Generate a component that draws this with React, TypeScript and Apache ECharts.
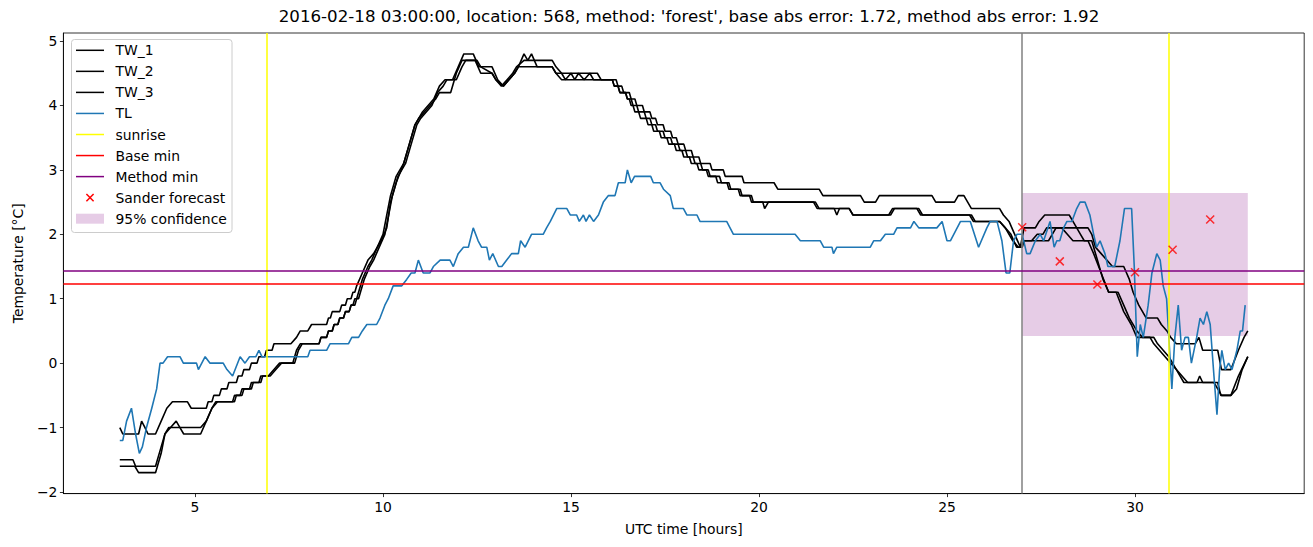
import React, { useEffect, useRef } from "react";
import * as echarts from "echarts";

type P = [number, number];

const TITLE =
  "2016-02-18 03:00:00, location: 568, method: 'forest', base abs error: 1.72, method abs error: 1.92";

const TW_1: P[] = [
  [3.0,-1.0],[3.08,-1.1],[3.5,-1.1],[3.58,-0.9],[3.67,-1.0],[3.75,-1.1],[3.95,-1.1],[4.1,-0.9],[4.25,-0.7],[4.4,-0.6],[4.8,-0.6],[4.9,-0.7],[5.2,-0.7],[5.3,-0.7],[5.35,-0.6],[5.45,-0.6],[5.5,-0.5],[5.65,-0.5],[5.7,-0.4],[5.85,-0.4],[5.9,-0.3],[6.1,-0.3],[6.15,-0.2],[6.25,-0.2],[6.3,-0.1],[6.45,-0.1],[6.5,0.0],[6.65,0.0],[6.7,0.1],[6.85,0.1],[6.9,0.2],[7.05,0.2],[7.1,0.3],[7.55,0.3],[7.7,0.4],[7.8,0.5],[8.0,0.5],[8.1,0.6],[8.5,0.6],[8.55,0.7],[8.6,0.7],[8.65,0.8],[8.85,0.8],[8.9,0.9],[9.0,0.9],[9.05,1.0],[9.15,1.0],[9.2,1.1],[9.25,1.1],[9.3,1.2],[9.45,1.4],[9.6,1.6],[9.75,1.7],[9.95,1.9],[10.1,2.1],[10.2,2.5],[10.35,2.8],[10.55,3.1],[10.7,3.4],[10.85,3.7],[10.95,3.8],[11.05,3.9],[11.2,4.0],[11.35,4.1],[11.5,4.3],[11.65,4.4],[11.85,4.4],[12.0,4.6],[12.15,4.8],[12.4,4.8],[12.55,4.6],[12.9,4.6],[13.05,4.4],[13.2,4.3],[13.35,4.4],[13.5,4.5],[13.6,4.6],[13.75,4.8],[13.85,4.7],[13.95,4.8],[14.1,4.6],[14.5,4.6],[14.6,4.5],[15.7,4.5],[15.8,4.4],[16.2,4.4],[16.25,4.3],[16.35,4.3],[16.4,4.2],[16.55,4.2],[16.6,4.1],[16.7,4.1],[16.75,4.0],[16.9,4.0],[16.95,3.9],[17.1,3.9],[17.15,3.8],[17.25,3.8],[17.3,3.7],[17.45,3.7],[17.5,3.6],[17.65,3.6],[17.7,3.5],[17.8,3.5],[17.85,3.4],[18.0,3.4],[18.05,3.3],[18.2,3.3],[18.25,3.2],[18.4,3.2],[18.45,3.1],[18.7,3.1],[18.75,3.0],[19.05,3.0],[19.1,2.9],[19.55,2.9],[19.6,2.8],[20.4,2.8],[20.5,2.7],[21.6,2.7],[21.7,2.6],[22.7,2.6],[22.8,2.5],[23.1,2.5],[23.2,2.6],[24.6,2.6],[24.7,2.5],[25.2,2.5],[25.3,2.6],[25.45,2.6],[25.55,2.5],[25.65,2.4],[26.4,2.4],[26.5,2.3],[26.65,2.2],[26.8,2.0],[26.95,1.8],[27.05,2.1],[27.35,2.1],[27.45,2.2],[27.6,2.3],[28.25,2.3],[28.35,2.2],[28.45,2.1],[28.75,2.1],[28.85,2.0],[28.95,1.8],[29.1,1.7],[29.25,1.6],[29.4,1.5],[29.7,1.5],[29.85,1.3],[29.95,1.1],[30.1,0.9],[30.3,0.7],[30.6,0.7],[30.7,0.6],[30.85,0.5],[30.95,0.4],[31.1,0.3],[31.6,0.3],[31.7,0.4],[31.8,0.2],[32.2,0.2],[32.3,-0.1],[32.55,-0.1],[32.75,0.2],[32.9,0.4],[33.0,0.5]
];

const TW_2: P[] = [
  [3.0,-1.5],[3.35,-1.5],[3.42,-1.6],[3.95,-1.6],[4.1,-1.3],[4.2,-1.1],[4.35,-1.0],[4.5,-0.9],[4.6,-1.0],[4.7,-1.1],[5.15,-1.1],[5.3,-0.9],[5.45,-0.7],[5.55,-0.6],[6.0,-0.6],[6.05,-0.5],[6.2,-0.5],[6.25,-0.4],[6.45,-0.4],[6.5,-0.3],[6.7,-0.3],[6.75,-0.2],[6.95,-0.2],[7.1,-0.1],[7.25,0.0],[7.6,0.0],[7.7,0.2],[7.8,0.3],[8.3,0.3],[8.35,0.4],[8.5,0.4],[8.55,0.5],[8.65,0.5],[8.7,0.6],[8.8,0.6],[8.85,0.7],[8.95,0.7],[9.0,0.8],[9.1,0.8],[9.15,0.9],[9.2,0.9],[9.25,1.0],[9.3,1.0],[9.35,1.1],[9.45,1.3],[9.6,1.5],[9.7,1.6],[9.85,1.8],[10.0,2.0],[10.1,2.3],[10.2,2.6],[10.35,2.9],[10.55,3.1],[10.7,3.4],[10.85,3.7],[10.95,3.8],[11.1,3.9],[11.25,4.0],[11.4,4.1],[11.5,4.2],[11.8,4.2],[11.95,4.5],[12.1,4.7],[12.45,4.7],[12.6,4.5],[12.9,4.5],[13.0,4.4],[13.15,4.3],[13.3,4.4],[13.45,4.5],[13.55,4.6],[13.75,4.7],[14.5,4.7],[14.6,4.6],[14.75,4.5],[14.85,4.4],[15.0,4.5],[15.1,4.4],[15.2,4.5],[15.35,4.4],[15.5,4.5],[15.6,4.4],[16.1,4.4],[16.15,4.3],[16.25,4.3],[16.3,4.2],[16.45,4.2],[16.5,4.1],[16.55,4.1],[16.6,4.0],[16.65,4.0],[16.7,3.9],[16.8,3.9],[16.85,3.8],[17.0,3.8],[17.05,3.7],[17.15,3.7],[17.2,3.6],[17.35,3.6],[17.4,3.5],[17.55,3.5],[17.6,3.4],[17.75,3.4],[17.8,3.3],[17.95,3.3],[18.0,3.2],[18.15,3.2],[18.2,3.1],[18.35,3.1],[18.4,3.0],[18.6,3.0],[18.65,2.9],[18.85,2.9],[18.9,2.8],[19.15,2.8],[19.2,2.7],[19.45,2.7],[19.5,2.6],[19.75,2.6],[19.8,2.5],[21.45,2.5],[21.55,2.4],[22.0,2.4],[22.07,2.3],[22.14,2.4],[22.4,2.4],[22.5,2.3],[23.5,2.3],[23.6,2.4],[24.2,2.4],[24.3,2.3],[25.6,2.3],[25.7,2.2],[26.4,2.2],[26.55,2.1],[26.7,2.0],[26.85,1.8],[26.95,1.8],[27.05,1.9],[27.25,1.9],[27.4,2.0],[27.55,2.0],[27.65,2.1],[28.05,2.1],[28.2,2.0],[28.35,1.9],[28.75,1.9],[28.9,1.7],[29.1,1.4],[29.3,1.1],[29.55,1.1],[29.7,0.9],[29.85,0.7],[30.05,0.5],[30.2,0.4],[30.5,0.4],[30.6,0.3],[30.75,0.2],[30.9,0.1],[31.0,0.0],[31.1,-0.1],[31.25,-0.2],[31.4,-0.3],[31.65,-0.3],[31.72,-0.2],[31.8,-0.3],[32.2,-0.3],[32.28,-0.5],[32.55,-0.5],[32.75,-0.2],[33.0,0.1]
];

const TW_3: P[] = [
  [3.0,-1.6],[3.4,-1.6],[3.5,-1.7],[3.95,-1.7],[4.1,-1.4],[4.2,-1.1],[4.3,-1.0],[5.15,-1.0],[5.3,-0.9],[5.45,-0.7],[5.6,-0.6],[6.05,-0.6],[6.1,-0.5],[6.25,-0.5],[6.3,-0.4],[6.5,-0.4],[6.55,-0.3],[6.75,-0.3],[6.8,-0.2],[7.0,-0.2],[7.15,-0.1],[7.3,0.0],[7.65,0.0],[7.75,0.2],[7.85,0.3],[8.3,0.3],[8.35,0.4],[8.5,0.4],[8.55,0.5],[8.65,0.5],[8.7,0.6],[8.8,0.6],[8.85,0.7],[8.95,0.7],[9.0,0.8],[9.1,0.8],[9.15,0.9],[9.25,0.9],[9.3,1.0],[9.35,1.0],[9.4,1.1],[9.5,1.3],[9.65,1.5],[9.75,1.6],[9.9,1.8],[10.05,2.0],[10.15,2.3],[10.25,2.6],[10.4,2.9],[10.6,3.1],[10.75,3.4],[10.9,3.7],[11.0,3.8],[11.15,3.9],[11.3,4.0],[11.45,4.2],[11.6,4.3],[11.7,4.4],[11.95,4.4],[12.1,4.6],[12.2,4.7],[12.5,4.7],[12.6,4.6],[12.9,4.5],[13.0,4.4],[13.2,4.3],[13.35,4.4],[13.5,4.5],[13.6,4.6],[14.5,4.6],[14.6,4.5],[14.75,4.4],[16.1,4.4],[16.15,4.3],[16.25,4.3],[16.3,4.2],[16.45,4.2],[16.5,4.1],[16.6,4.1],[16.65,4.0],[16.75,4.0],[16.8,3.9],[16.95,3.9],[17.0,3.8],[17.1,3.8],[17.15,3.7],[17.25,3.7],[17.3,3.6],[17.45,3.6],[17.5,3.5],[17.65,3.5],[17.7,3.4],[17.85,3.4],[17.9,3.3],[18.05,3.3],[18.1,3.2],[18.25,3.2],[18.3,3.1],[18.45,3.1],[18.5,3.0],[18.65,3.0],[18.7,2.9],[18.95,2.9],[19.0,2.8],[19.2,2.8],[19.25,2.7],[19.5,2.7],[19.55,2.6],[19.8,2.6],[19.85,2.5],[20.1,2.5],[20.15,2.4],[20.25,2.5],[21.5,2.5],[21.6,2.4],[22.4,2.4],[22.5,2.3],[23.45,2.3],[23.55,2.4],[24.25,2.4],[24.35,2.3],[25.65,2.3],[25.75,2.2],[26.4,2.2],[26.55,2.1],[26.75,1.9],[26.9,1.8],[27.0,1.8],[27.05,1.9],[27.7,1.9],[27.8,2.0],[27.9,2.1],[28.45,2.1],[28.55,2.0],[28.65,1.9],[28.85,1.9],[29.0,1.6],[29.15,1.3],[29.3,1.1],[29.5,1.1],[29.7,0.8],[29.9,0.6],[30.05,0.4],[30.4,0.4],[30.5,0.3],[30.65,0.2],[30.8,0.1],[30.95,0.0],[31.1,-0.1],[31.2,-0.2],[31.3,-0.3],[32.1,-0.3],[32.2,-0.4],[32.3,-0.5],[32.55,-0.5],[32.7,-0.4],[32.85,-0.1],[33.0,0.1]
];

const TL: P[] = [
  [3.0,-1.2],[3.08,-1.2],[3.18,-0.9],[3.31,-0.7],[3.42,-1.1],[3.52,-1.4],[3.6,-1.3],[3.71,-1.0],[3.85,-0.7],[3.98,-0.4],[4.07,0.0],[4.15,0.0],[4.27,0.1],[4.6,0.1],[4.69,0.0],[5.04,0.0],[5.09,-0.1],[5.27,0.1],[5.4,0.0],[5.75,0.0],[5.85,-0.1],[6.0,-0.2],[6.2,0.1],[6.33,0.0],[6.45,0.1],[6.62,0.1],[6.7,0.2],[6.78,0.1],[8.0,0.1],[8.06,0.2],[8.5,0.2],[8.59,0.3],[9.08,0.3],[9.17,0.4],[9.35,0.4],[9.45,0.5],[9.57,0.6],[9.83,0.6],[9.92,0.7],[10.05,0.9],[10.14,1.0],[10.27,1.2],[10.5,1.2],[10.63,1.3],[10.75,1.4],[10.85,1.4],[10.94,1.6],[11.07,1.4],[11.25,1.4],[11.34,1.5],[11.52,1.6],[11.78,1.6],[11.87,1.5],[12.0,1.7],[12.14,1.8],[12.27,1.8],[12.4,2.1],[12.53,1.9],[12.62,1.8],[12.76,1.8],[12.83,1.6],[12.92,1.7],[13.07,1.5],[13.16,1.5],[13.29,1.6],[13.42,1.7],[13.6,1.7],[13.66,1.9],[13.78,1.8],[13.95,2.0],[14.26,2.0],[14.35,2.1],[14.45,2.2],[14.62,2.4],[14.89,2.4],[14.98,2.3],[15.15,2.3],[15.22,2.2],[15.33,2.3],[15.4,2.2],[15.49,2.3],[15.6,2.2],[15.73,2.3],[15.86,2.5],[15.99,2.6],[16.17,2.6],[16.26,2.8],[16.44,2.8],[16.5,3.0],[16.6,2.8],[16.69,2.9],[17.12,2.9],[17.19,2.8],[17.37,2.8],[17.46,2.7],[17.64,2.6],[17.72,2.4],[17.99,2.4],[18.08,2.3],[18.35,2.3],[18.43,2.2],[19.14,2.2],[19.32,2.0],[20.96,2.0],[21.1,1.9],[21.63,1.9],[21.72,1.8],[21.94,1.8],[21.98,1.7],[22.07,1.8],[22.96,1.8],[23.05,1.9],[23.23,1.9],[23.36,2.0],[23.58,2.0],[23.67,2.1],[24.03,2.1],[24.12,2.2],[24.25,2.1],[24.73,2.1],[24.87,2.2],[25.0,1.9],[25.09,1.9],[25.36,2.2],[25.62,2.2],[25.84,1.8],[26.06,2.1],[26.15,2.2],[26.33,2.2],[26.46,1.9],[26.57,1.4],[26.67,1.4],[26.77,1.9],[26.86,2.0],[27.0,2.0],[27.12,1.7],[27.21,1.7],[27.35,1.9],[27.48,2.0],[27.57,1.9],[27.74,2.2],[27.85,1.8],[27.92,1.9],[28.0,1.9],[28.1,2.1],[28.19,2.2],[28.32,2.2],[28.45,2.4],[28.54,2.5],[28.67,2.5],[28.8,2.3],[28.9,2.0],[28.98,1.8],[29.07,1.9],[29.2,1.7],[29.28,1.5],[29.46,1.5],[29.6,1.9],[29.72,2.4],[29.82,2.4],[29.91,2.4],[29.98,1.5],[30.06,0.1],[30.14,0.6],[30.22,0.4],[30.35,0.9],[30.45,1.4],[30.58,1.7],[30.67,1.6],[30.75,1.2],[30.84,1.0],[30.92,0.2],[30.98,-0.4],[31.06,0.4],[31.15,0.9],[31.24,0.2],[31.33,0.4],[31.42,0.4],[31.5,0.0],[31.64,0.4],[31.73,0.7],[31.82,0.6],[31.91,0.8],[32.0,0.6],[32.1,-0.2],[32.18,-0.8],[32.25,-0.1],[32.31,0.2],[32.4,-0.1],[32.49,0.0],[32.58,-0.1],[32.71,0.2],[32.8,0.5],[32.86,0.5],[32.93,0.9]
];

const sunriseHours = [6.9, 30.9];
const forecastStartHour = 27;
const baseMin = 1.23;
const methodMin = 1.44;
const forecastHours = [27, 28, 29, 30, 31, 32];
const forecastValues = [2.11, 1.58, 1.22, 1.41, 1.76, 2.23];
const confidenceHours = [27, 33];
const confidenceBounds = [0.42, 2.64];
const xTicks = [5, 10, 15, 20, 25, 30];
const yTicks = [-2, -1, 0, 1, 2, 3, 4, 5];
const legendLabels = ["TW_1", "TW_2", "TW_3", "TL", "sunrise", "Base min", "Method min", "Sander forecast", "95% confidence"];

const FONT = "'DejaVu Sans', sans-serif";
const FS = 13.9;
const C_TL = "#1f77b4";
const C_SUN = "#ffff00";
const C_BASE = "#ff0000";
const C_METHOD = "#800080";
const C_CONF = "rgba(128,0,128,0.2)";
const legendColors = ["#000", "#000", "#000", C_TL, C_SUN, C_BASE, C_METHOD, "#ff0000", C_CONF];

function buildLegend(): any[] {
  const els: any[] = [];
  els.push({
    type: "rect",
    shape: { x: 71.5, y: 39.5, width: 160.5, height: 193, r: 3 },
    style: { fill: "rgba(255,255,255,0.8)", stroke: "#cccccc", lineWidth: 1 },
    z: 100,
  });
  legendLabels.forEach((label, i) => {
    const y = 50.3 + i * 21.05;
    if (i < 7) {
      els.push({
        type: "line",
        shape: { x1: 76, y1: y, x2: 104, y2: y },
        style: { stroke: legendColors[i], lineWidth: 1.5 },
        z: 101,
      });
    } else if (i === 7) {
      const cx = 90, s = 3.6;
      els.push({ type: "line", shape: { x1: cx - s, y1: y - s, x2: cx + s, y2: y + s }, style: { stroke: "#ff0000", lineWidth: 1.5 }, z: 101 });
      els.push({ type: "line", shape: { x1: cx - s, y1: y + s, x2: cx + s, y2: y - s }, style: { stroke: "#ff0000", lineWidth: 1.5 }, z: 101 });
    } else {
      els.push({
        type: "rect",
        shape: { x: 76, y: y - 5, width: 28, height: 10 },
        style: { fill: C_CONF },
        z: 101,
      });
    }
    els.push({
      type: "text",
      x: 115.5,
      y: y,
      style: { text: label, fill: "#000", fontSize: FS, fontFamily: FONT, verticalAlign: "middle", align: "left" },
      z: 101,
    });
  });
  return els;
}

const minus = (v: number) => String(v).replace("-", "\u2212");

export default function App() {
  const ref = useRef<HTMLDivElement>(null);
  useEffect(() => {
    if (!ref.current) return;
    const chart = echarts.init(ref.current, undefined, { renderer: "svg" });
    const twSeries = [TW_1, TW_2, TW_3].map((d, i) => ({
      name: legendLabels[i],
      type: "line",
      data: d,
      symbol: "none",
      silent: true,
      lineStyle: { color: "#000", width: 1.6 },
      itemStyle: { color: "#000" },
      z: 3,
    }));
    const option: any = {
      animation: false,
      title: {
        text: TITLE,
        left: 684,
        top: 3,
        textAlign: "center",
        textStyle: { fontSize: 16.67, fontWeight: "normal", color: "#000", fontFamily: FONT },
      },
      grid: {
        left: 63.4,
        right: 8.8,
        top: 33,
        bottom: 53.4,
        show: true,
        borderColor: "#000",
        borderWidth: 0.8,
        backgroundColor: "transparent",
      },
      xAxis: {
        type: "value",
        min: 1.5,
        max: 34.5,
        splitLine: { show: false },
        axisLine: { show: true, onZero: false, lineStyle: { color: "#000", width: 0.8 } },
        axisTick: { show: true, length: 3.5, customValues: xTicks, lineStyle: { color: "#000", width: 0.8 } },
        axisLabel: { customValues: xTicks, color: "#000", fontSize: FS, fontFamily: FONT, margin: 6 },
        name: "UTC time [hours]",
        nameLocation: "middle",
        nameGap: 28,
        nameTextStyle: { color: "#000", fontSize: FS, fontFamily: FONT },
      },
      yAxis: {
        type: "value",
        min: -2.025,
        max: 5.125,
        splitLine: { show: false },
        axisLine: { show: true, onZero: false, lineStyle: { color: "#000", width: 0.8 } },
        axisTick: { show: true, length: 3.5, customValues: yTicks, lineStyle: { color: "#000", width: 0.8 } },
        axisLabel: { customValues: yTicks, color: "#000", fontSize: FS, fontFamily: FONT, margin: 6, formatter: (v: number) => minus(v) },
        name: "Temperature [°C]",
        nameLocation: "middle",
        nameGap: 38,
        nameRotate: 90,
        nameTextStyle: { color: "#000", fontSize: FS, fontFamily: FONT },
      },
      series: [
        {
          name: legendLabels[8],
          type: "line",
          data: [],
          silent: true,
          z: 1,
          markArea: {
            silent: true,
            itemStyle: { color: C_CONF },
            data: [[
              { xAxis: confidenceHours[0], yAxis: confidenceBounds[0] },
              { xAxis: confidenceHours[1], yAxis: confidenceBounds[1] },
            ]],
          },
        },
        ...twSeries,
        {
          name: legendLabels[3],
          type: "line",
          data: TL,
          symbol: "none",
          silent: true,
          lineStyle: { color: C_TL, width: 1.6 },
          itemStyle: { color: C_TL },
          z: 4,
        },
        {
          name: legendLabels[4],
          type: "line",
          data: [],
          z: 5,
          markLine: {
            silent: true,
            symbol: ["none", "none"],
            label: { show: false },
            lineStyle: { color: C_SUN, width: 1.5, type: "solid" },
            data: sunriseHours.map((h) => ({ xAxis: h })),
          },
        },
        {
          name: "forecast start",
          type: "line",
          data: [],
          z: 5,
          markLine: {
            silent: true,
            symbol: ["none", "none"],
            label: { show: false },
            lineStyle: { color: "#808080", width: 1.5, type: "solid" },
            data: [{ xAxis: forecastStartHour }],
          },
        },
        {
          name: legendLabels[5],
          type: "line",
          data: [],
          z: 5,
          markLine: {
            silent: true,
            symbol: ["none", "none"],
            label: { show: false },
            lineStyle: { color: C_BASE, width: 1.5, type: "solid" },
            data: [{ yAxis: baseMin }],
          },
        },
        {
          name: legendLabels[6],
          type: "line",
          data: [],
          z: 5,
          markLine: {
            silent: true,
            symbol: ["none", "none"],
            label: { show: false },
            lineStyle: { color: C_METHOD, width: 1.5, type: "solid" },
            data: [{ yAxis: methodMin }],
          },
        },
        {
          name: legendLabels[7],
          type: "scatter",
          data: forecastHours.map((h, i) => [h, forecastValues[i]]),
          symbol: "path://M0,0L10,10M10,0L0,10",
          symbolSize: 8,
          silent: true,
          itemStyle: { color: "none", borderColor: "#ff0000", borderWidth: 1.5 },
          z: 6,
        },
      ],
      graphic: buildLegend(),
    };
    chart.setOption(option);
    return () => chart.dispose();
  }, []);
  return (
    <div
      ref={ref}
      style={{ position: "fixed", left: 0, top: 0, width: 1313, height: 547, background: "#fff" }}
    />
  );
}
